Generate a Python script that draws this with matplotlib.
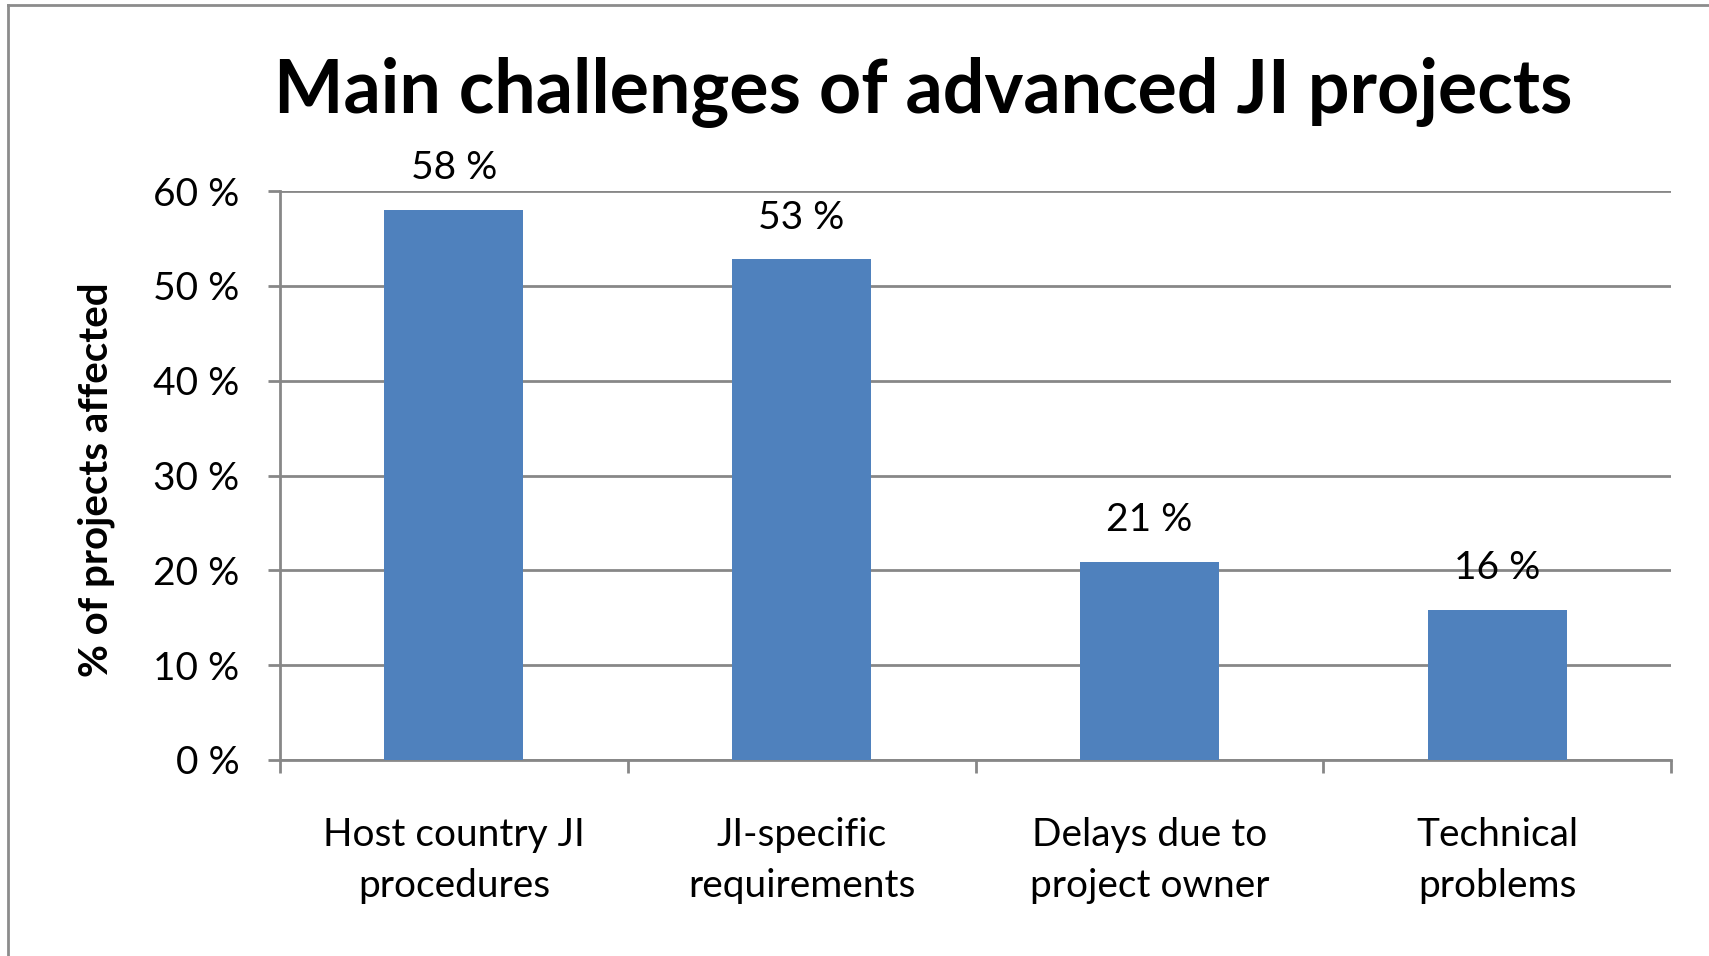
import matplotlib
matplotlib.use("Agg")
import matplotlib.pyplot as plt
from matplotlib.lines import Line2D
import numpy as np

categories = ["Host country JI\nprocedures", "JI-specific\nrequirements",
              "Delays due to\nproject owner", "Technical\nproblems"]
values = [58.0, 52.8, 20.9, 15.8]
yticks = [0, 10, 20, 30, 40, 50, 60]
ytick_labels = ["0 %", "10 %", "20 %", "30 %", "40 %", "50 %", "60 %"]
title = "Main challenges of advanced JI projects"
ylabel = "% of projects affected"

plt.rcParams['font.family'] = ['Lato', 'DejaVu Sans']
W, H = 1709, 956
fig = plt.figure(figsize=(W / 100, H / 100), dpi=100)
fig.patch.set_facecolor('white')

ax = fig.add_axes([280 / W, 1 - 760 / H, (1671 - 280) / W, (760 - 191) / H])
grid_c = '#878787'
x = np.arange(len(categories))
bars = ax.bar(x, values, width=0.4, color='#4F81BD', zorder=3)
ax.set_xlim(-0.5, len(categories) - 0.5)
ax.set_ylim(0, 60)
ax.set_yticks(yticks)
ax.set_yticklabels(ytick_labels, fontsize=28)
ax.yaxis.grid(True, color=grid_c, linewidth=2.0, zorder=0)
ax.set_axisbelow(True)
for s in ['top', 'right']:
    ax.spines[s].set_visible(False)
for s in ['left', 'bottom']:
    ax.spines[s].set_color(grid_c)
    ax.spines[s].set_linewidth(2.0)
ax.tick_params(axis='y', length=9, width=2.0, color=grid_c, pad=20)
ax.set_xticks(np.arange(-0.5, len(categories), 1.0))
ax.set_xticklabels([])
ax.tick_params(axis='x', which='major', length=9, width=2.0, color=grid_c)
ax.set_xticks(x, minor=True)
ax.set_xticklabels(categories, minor=True, fontsize=28, linespacing=1.52)
ax.tick_params(axis='x', which='minor', length=0, pad=41)

for xi, v in zip(x, values):
    ax.annotate(f"{v:.0f} %", (xi, v), xytext=(0, 30), textcoords='offset points',
                ha='center', va='center', fontsize=28)

fig.text(96 / W, 1 - 480 / H, ylabel, ha='center', va='center', rotation=90,
         fontsize=29, fontweight='bold')
fig.text(923 / W, 1 - 92 / H, title, ha='center', va='center', fontsize=53,
         fontweight='bold')

fig.add_artist(Line2D([8 / W, 8 / W], [0, 1 - 5 / H], color='#8c8c8c', lw=2,
                      transform=fig.transFigure))
fig.add_artist(Line2D([8 / W, 1], [1 - 5 / H, 1 - 5 / H], color='#8c8c8c', lw=2,
                      transform=fig.transFigure))

fig.savefig("out.png", dpi=100)
